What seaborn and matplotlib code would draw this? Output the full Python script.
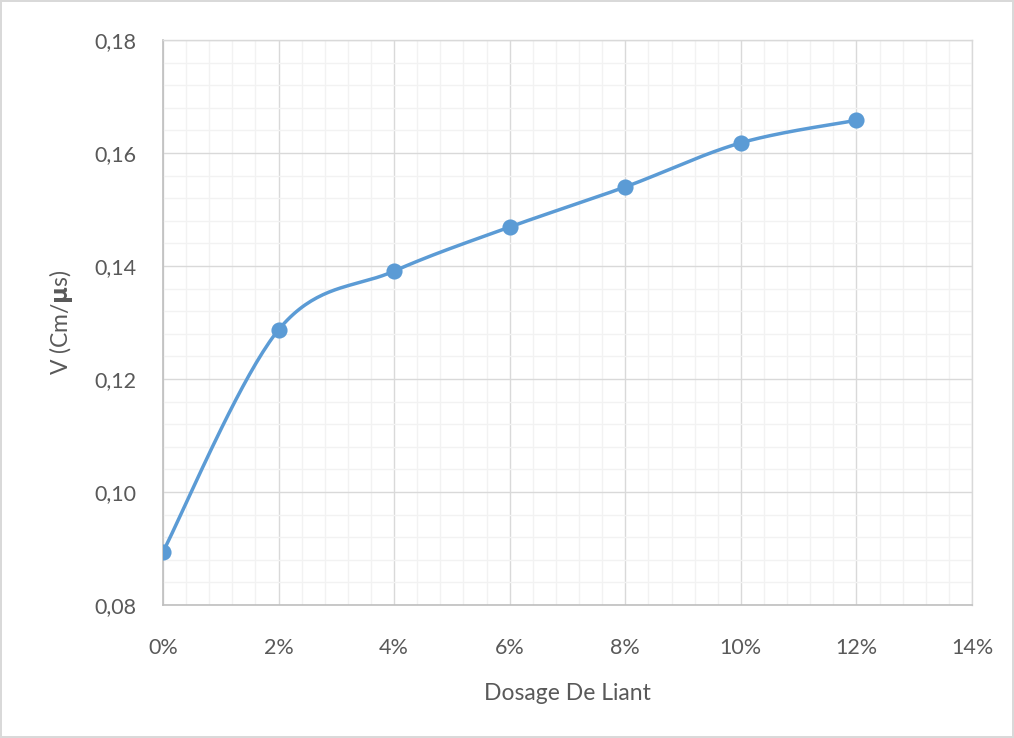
import numpy as np
import pandas as pd
import seaborn as sns
import matplotlib.pyplot as plt
from matplotlib.ticker import MultipleLocator, FuncFormatter

# data
dosage = [0.00, 0.02, 0.04, 0.06, 0.08, 0.10, 0.12]
vitesse = [0.0894, 0.1287, 0.1391, 0.1469, 0.1540, 0.1618, 0.1658]

x_ticks = [0.00, 0.02, 0.04, 0.06, 0.08, 0.10, 0.12, 0.14]
y_ticks = [0.08, 0.10, 0.12, 0.14, 0.16, 0.18]

df = pd.DataFrame({"dosage": dosage, "v": vitesse})


# Excel-like smoothed line (Catmull-Rom bezier through the points)
def smooth_curve(xs, ys, n=40):
    p = np.column_stack([xs, ys])
    pts = np.vstack([p[0], p, p[-1]])
    out = []
    for i in range(1, len(pts) - 2):
        p0, p1, p2, p3 = pts[i - 1], pts[i], pts[i + 1], pts[i + 2]
        c1 = p1 + (p2 - p0) / 6
        c2 = p2 - (p3 - p1) / 6
        t = np.linspace(0, 1, n)[:, None]
        seg = ((1 - t) ** 3) * p1 + 3 * ((1 - t) ** 2) * t * c1 + 3 * (1 - t) * t ** 2 * c2 + t ** 3 * p2
        out.append(seg if i == 1 else seg[1:])
    return np.vstack(out)


curve = smooth_curve(df["dosage"].values, df["v"].values)
curve_df = pd.DataFrame({"dosage": curve[:, 0], "v": curve[:, 1]})

sns.set_style("white")
plt.rcParams["font.family"] = ["Lato", "DejaVu Sans"]

blue = "#5B9BD5"
text_col = "#595959"

fig = plt.figure(figsize=(10.14, 7.38), dpi=100)
fig.patch.set_edgecolor("#D9D9D9")
fig.patch.set_linewidth(1.5)
ax = fig.add_axes([0.1607, 0.1802, 0.7979, 0.7656])

sns.lineplot(data=curve_df, x="dosage", y="v", sort=False, estimator=None,
             color=blue, linewidth=2.5, ax=ax)
sns.scatterplot(data=df, x="dosage", y="v", color=blue, s=135,
                edgecolor=blue, linewidth=0, zorder=5, ax=ax)

ax.set_xlim(0, 0.14)
ax.set_ylim(0.08, 0.18)
ax.set_xticks(x_ticks)
ax.set_yticks(y_ticks)
ax.xaxis.set_minor_locator(MultipleLocator(0.004))
ax.yaxis.set_minor_locator(MultipleLocator(0.004))
ax.xaxis.set_major_formatter(FuncFormatter(lambda v, _: f"{v * 100:.0f}%"))
ax.yaxis.set_major_formatter(FuncFormatter(lambda v, _: f"{v:.2f}".replace(".", ",")))

ax.grid(which="major", color="#D9D9D9", linewidth=1.0)
ax.grid(which="minor", color="#F2F2F2", linewidth=1.0)
ax.set_axisbelow(True)

for side in ["top", "right"]:
    ax.spines[side].set_color("#D9D9D9")
    ax.spines[side].set_linewidth(1.0)
for side in ["left", "bottom"]:
    ax.spines[side].set_color("#BFBFBF")
    ax.spines[side].set_linewidth(1.2)

ax.tick_params(axis="both", which="major", length=5, width=1.2, color="#BFBFBF",
               labelsize=15.5, labelcolor=text_col, direction="out")
ax.tick_params(axis="x", which="major", pad=19)
ax.tick_params(axis="y", which="major", pad=14)
ax.tick_params(which="minor", length=0)

ax.set_xlabel("Dosage De Liant", fontsize=16.5, color=text_col, labelpad=18)
ax.set_ylabel("V (Cm/$\\mathbf{\\mu}$s)", fontsize=16.5, color=text_col, labelpad=14)

fig.savefig("out.png", dpi=100)
